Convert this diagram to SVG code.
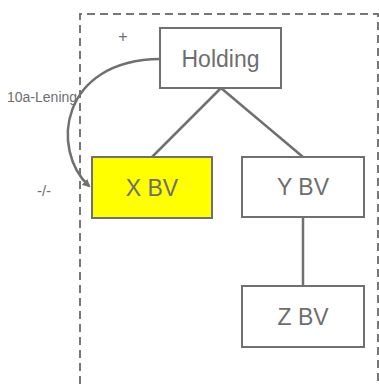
<svg xmlns="http://www.w3.org/2000/svg" width="379" height="384" viewBox="0 0 379 384">
<style>
.box{fill:#fff;stroke:#707070;stroke-width:2}
.lbl{font-family:"Liberation Sans",Arial,sans-serif;font-size:23px;fill:#6e6e6e;text-anchor:middle}
.sm{font-family:"Liberation Sans",Arial,sans-serif;font-size:14px;fill:#6e6e6e}
.ln{fill:none;stroke:#707070;stroke-width:2.5}
</style>
<defs>
<marker id="ah" markerWidth="8" markerHeight="8" refX="6" refY="4" orient="auto" markerUnits="userSpaceOnUse">
<path d="M0,0 L8,4 L0,8 z" fill="#707070"/>
</marker>
</defs>
<g id="boundary">
<path d="M80,384 V14 H378 V384" fill="none" stroke="#777" stroke-width="2" stroke-dasharray="8,5"/>
</g>
<g id="connectors">
<line class="ln" x1="221" y1="88" x2="152" y2="157"/>
<line class="ln" x1="221" y1="88" x2="303" y2="157"/>
<line class="ln" x1="303" y1="217" x2="303" y2="286"/>
<path class="ln" d="M160,59 C60,60 50,150 89,186" marker-end="url(#ah)"/>
</g>
<g id="holding">
<rect class="box" x="160" y="28" width="121" height="60"/>
<text class="lbl" x="220.5" y="67">Holding</text>
</g>
<g id="xbv">
<rect class="box" x="92" y="157" width="120" height="61" style="fill:#ffff00"/>
<text class="lbl" x="152" y="196">X BV</text>
</g>
<g id="ybv">
<rect class="box" x="242" y="157" width="122" height="60"/>
<text class="lbl" x="303" y="195">Y BV</text>
</g>
<g id="zbv">
<rect class="box" x="242" y="286" width="122" height="61"/>
<text class="lbl" x="303" y="325">Z BV</text>
</g>
<text class="sm" x="123" y="42" text-anchor="middle" style="font-size:16px">+</text>
<text class="sm" x="7" y="102">10a-Lening</text>
<text class="sm" x="44" y="196" text-anchor="middle" style="font-size:15px">-/-</text>
</svg>
